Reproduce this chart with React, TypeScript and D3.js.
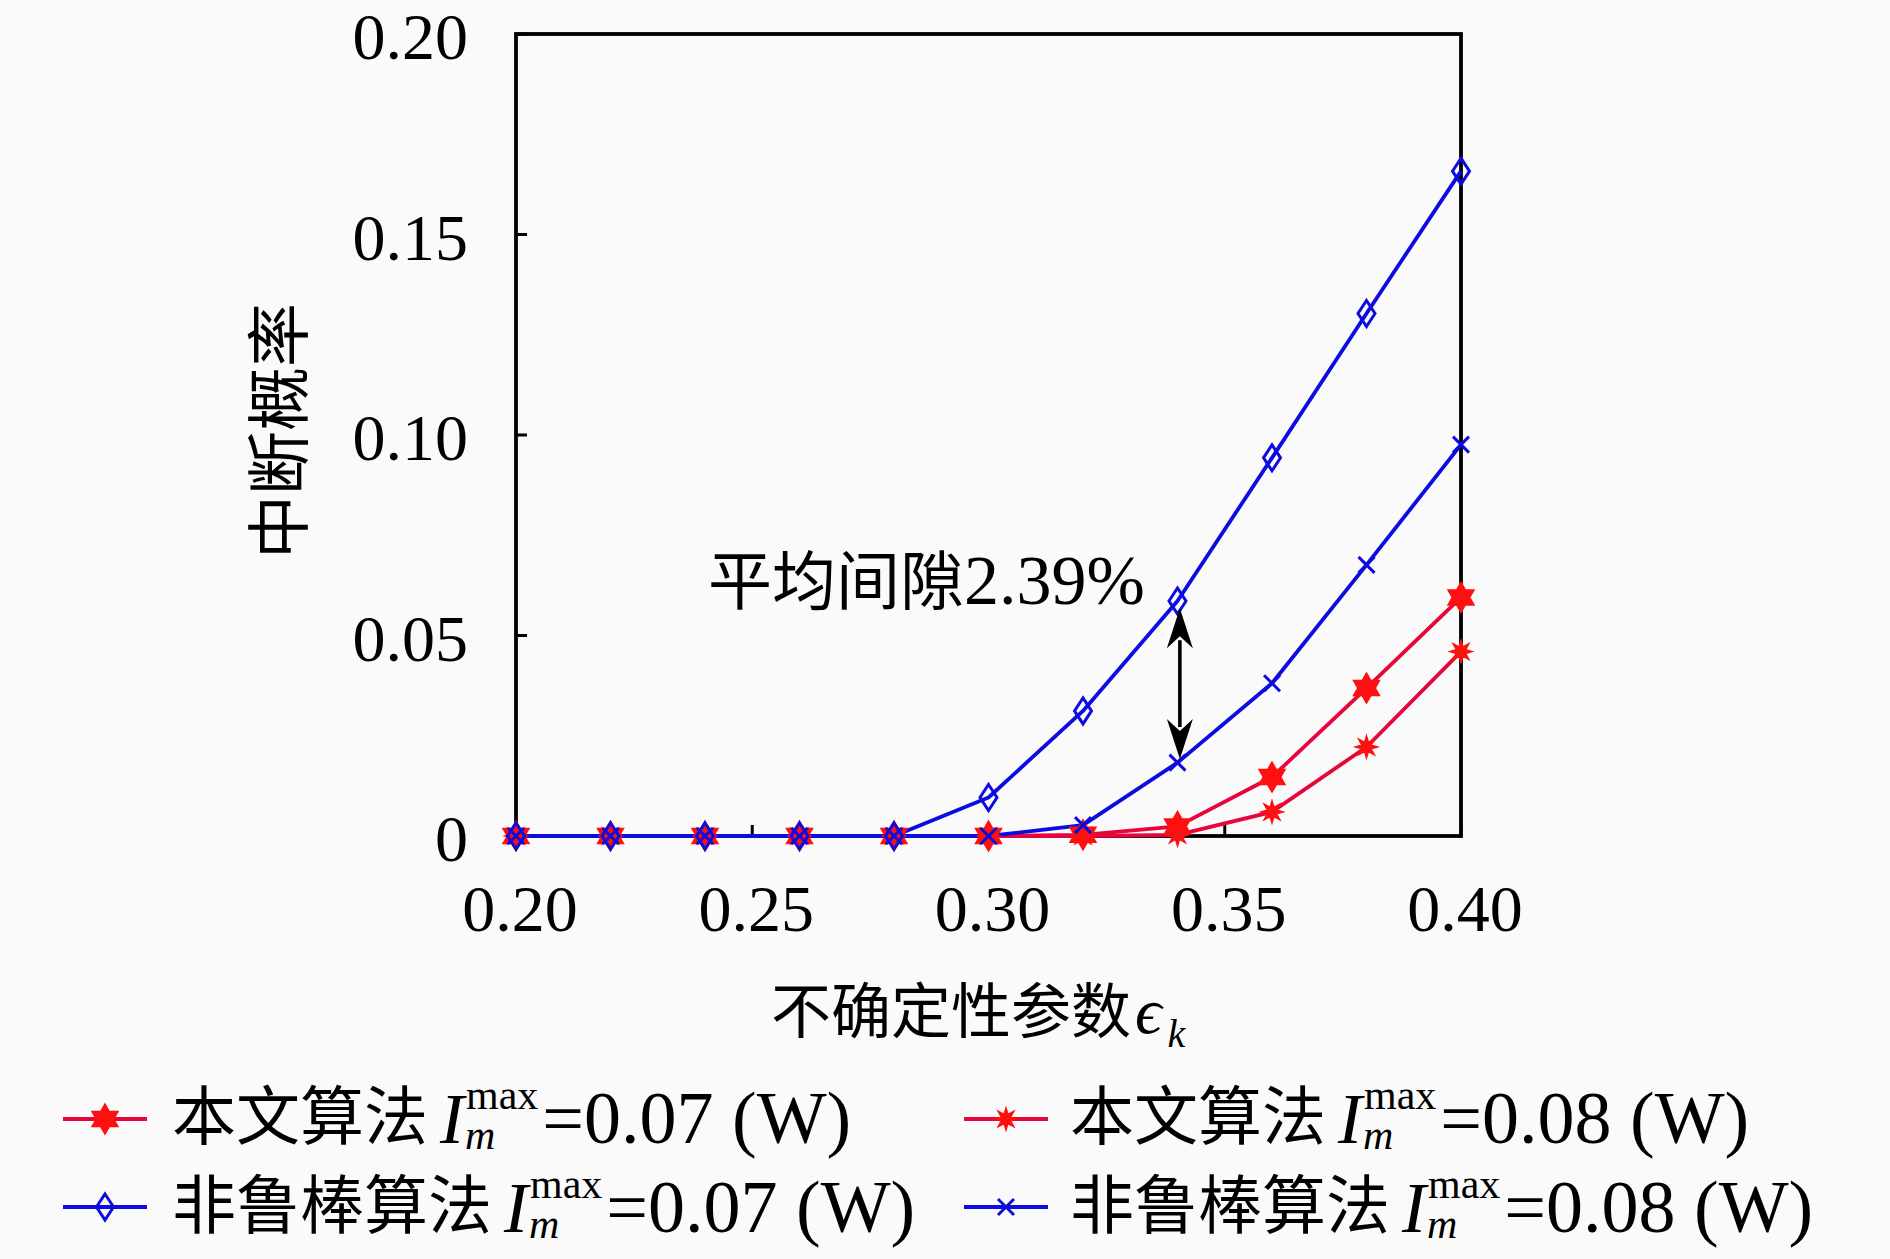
import { useEffect, useRef } from 'react';
import * as d3 from 'd3';

// uncertainty parameter epsilon_k
const epsValues = [0.2, 0.22, 0.24, 0.26, 0.28, 0.3, 0.32, 0.34, 0.36, 0.38, 0.4];

// outage probability
const oursI07 = [0, 0, 0, 0, 0, 0, 0.0003, 0.0024, 0.0147, 0.0369, 0.0595];
const oursI08 = [0, 0, 0, 0, 0, 0, 0, 0.0003, 0.006, 0.0222, 0.046];
const nonRobustI07 = [0, 0, 0, 0, 0, 0.0096, 0.0312, 0.0586, 0.0943, 0.1303, 0.1658];
const nonRobustI08 = [0, 0, 0, 0, 0, 0, 0.0027, 0.0183, 0.0381, 0.0676, 0.0976];

const xTicks = [0.2, 0.25, 0.3, 0.35, 0.4];
const xTickLabels = ['0.20', '0.25', '0.30', '0.35', '0.40'];
const yTicks = [0, 0.05, 0.1, 0.15, 0.2];
const yTickLabels = ['0', '0.05', '0.10', '0.15', '0.20'];

const gapWords = '平均间隙';
const gapValue = '2.39%';
const gapAt = { x: 0.3405, from: 0.0568, to: 0.0192 };

const RED_LINE = '#e6063c';
const RED_MARK = '#ff1010';
const BLUE = '#0c0ce0';
const SERIF = "'Liberation Serif', 'DejaVu Serif', serif";
const CJK = "'Noto Sans CJK SC', 'Noto Sans CJK JP', sans-serif";

type Marker = 'hexagram' | 'asterisk' | 'diamond' | 'cross';

interface Series {
  name: string;
  power: string;
  values: number[];
  line: string;
  mark: string;
  marker: Marker;
}

const series: Series[] = [
  { name: '本文算法', power: '0.07', values: oursI07, line: RED_LINE, mark: RED_MARK, marker: 'hexagram' },
  { name: '本文算法', power: '0.08', values: oursI08, line: RED_LINE, mark: RED_MARK, marker: 'asterisk' },
  { name: '非鲁棒算法', power: '0.07', values: nonRobustI07, line: BLUE, mark: BLUE, marker: 'diamond' },
  { name: '非鲁棒算法', power: '0.08', values: nonRobustI08, line: BLUE, mark: BLUE, marker: 'cross' },
];

function starPath(points: number, outer: number, inner: number) {
  const pts: [number, number][] = [];
  for (let i = 0; i < points * 2; i++) {
    const r = i % 2 === 0 ? outer : inner;
    const a = -Math.PI / 2 + (i * Math.PI) / points;
    pts.push([r * Math.cos(a), r * Math.sin(a)]);
  }
  return 'M' + pts.map(p => p.join(',')).join('L') + 'Z';
}

function drawMarker(g: d3.Selection<SVGGElement, unknown, null, undefined>, s: Series, cx: number, cy: number) {
  const t = `translate(${cx},${cy})`;
  if (s.marker === 'hexagram') {
    g.append('path').attr('transform', t).attr('d', starPath(6, 15, 15 / Math.sqrt(3)))
      .attr('fill', s.mark).attr('stroke', s.mark).attr('stroke-width', 1.5);
  } else if (s.marker === 'asterisk') {
    g.append('path').attr('transform', t).attr('d', starPath(8, 11, 5))
      .attr('fill', s.mark).attr('stroke', s.mark).attr('stroke-width', 1.5);
  } else if (s.marker === 'diamond') {
    g.append('path').attr('transform', t).attr('d', 'M0,-13L8.5,0L0,13L-8.5,0Z')
      .attr('fill', 'none').attr('stroke', s.mark).attr('stroke-width', 3);
  } else {
    g.append('path').attr('transform', t).attr('d', 'M-8,-8L8,8M-8,8L8,-8')
      .attr('fill', 'none').attr('stroke', s.mark).attr('stroke-width', 3);
  }
}

export default function App() {
  const ref = useRef<SVGSVGElement>(null);

  useEffect(() => {
    if (!ref.current) return;
    const svg = d3.select(ref.current);
    svg.selectAll('*').remove();

    const plot = { left: 516, right: 1461, top: 34, bottom: 836 };
    const x = d3.scaleLinear().domain([0.2, 0.4]).range([plot.left, plot.right]);
    const y = d3.scaleLinear().domain([0, 0.2]).range([plot.bottom, plot.top]);

    svg.append('rect').attr('width', 1890).attr('height', 1259).attr('fill', '#fafafa');

    // frame
    svg.append('rect')
      .attr('x', plot.left).attr('y', plot.top)
      .attr('width', plot.right - plot.left).attr('height', plot.bottom - plot.top)
      .attr('fill', 'none').attr('stroke', '#000').attr('stroke-width', 3.8);

    // inward ticks + labels
    const axis = svg.append('g');
    yTicks.forEach((v, i) => {
      axis.append('line').attr('x1', plot.left).attr('x2', plot.left + 11)
        .attr('y1', y(v)).attr('y2', y(v)).attr('stroke', '#000').attr('stroke-width', 3);
      axis.append('text').attr('x', 468).attr('y', y(v) + 25)
        .attr('text-anchor', 'end').attr('font-family', SERIF).attr('font-size', 66)
        .text(yTickLabels[i]);
    });
    xTicks.forEach((v, i) => {
      axis.append('line').attr('x1', x(v)).attr('x2', x(v))
        .attr('y1', plot.bottom).attr('y2', plot.bottom - 11).attr('stroke', '#000').attr('stroke-width', 3);
      axis.append('text').attr('x', x(v) + 4).attr('y', 931)
        .attr('text-anchor', 'middle').attr('font-family', SERIF).attr('font-size', 66)
        .text(xTickLabels[i]);
    });

    // axis titles
    const xt = svg.append('text').attr('x', 771).attr('y', 1033).attr('font-size', 60);
    xt.append('tspan').attr('font-family', CJK).text('不确定性参数');
    xt.append('tspan').attr('font-family', SERIF).attr('font-style', 'italic').attr('font-size', 66)
      .attr('dx', 4).text('ϵ');
    xt.append('tspan').attr('font-family', SERIF).attr('font-style', 'italic').attr('font-size', 40)
      .attr('dx', 6).attr('dy', 14).text('k');

    svg.append('text')
      .attr('transform', 'translate(302,431) rotate(-90)')
      .attr('text-anchor', 'middle').attr('font-family', CJK).attr('font-size', 64)
      .text('中断概率');

    // series
    const lines = svg.append('g');
    const line = d3.line<number>()
      .x((_, i) => x(epsValues[i]))
      .y(d => y(d));
    series.forEach(s => {
      lines.append('path').datum(s.values)
        .attr('d', line).attr('fill', 'none')
        .attr('stroke', s.line).attr('stroke-width', 3.8).attr('stroke-linejoin', 'round');
    });
    const marks = svg.append('g');
    series.forEach(s => {
      s.values.forEach((v, i) => drawMarker(marks, s, x(epsValues[i]), y(v)));
    });

    // gap annotation
    const gt = svg.append('text').attr('x', 708).attr('y', 604);
    gt.append('tspan').attr('font-family', CJK).attr('font-size', 64).text(gapWords);
    gt.append('tspan').attr('font-family', SERIF).attr('font-size', 70).text(gapValue);
    const ax = x(gapAt.x);
    const yTop = y(gapAt.from);
    const yBot = y(gapAt.to);
    const headL = 40;
    const headW = 13;
    svg.append('line').attr('x1', ax).attr('x2', ax)
      .attr('y1', yTop + headL - 8).attr('y2', yBot - headL + 8)
      .attr('stroke', '#000').attr('stroke-width', 3.6);
    svg.append('path')
      .attr('d', `M${ax},${yTop}L${ax + headW},${yTop + headL}L${ax},${yTop + headL - 12}L${ax - headW},${yTop + headL}Z`)
      .attr('fill', '#000');
    svg.append('path')
      .attr('d', `M${ax},${yBot}L${ax + headW},${yBot - headL}L${ax},${yBot - headL + 12}L${ax - headW},${yBot - headL}Z`)
      .attr('fill', '#000');

    // legend
    const legendPos = [
      { lx: 63, tx: 172, ly: 1119, ty: 1143 },
      { lx: 964, tx: 1070, ly: 1119, ty: 1143 },
      { lx: 63, tx: 172, ly: 1207, ty: 1232 },
      { lx: 964, tx: 1070, ly: 1207, ty: 1232 },
    ];
    series.forEach((s, k) => {
      const p = legendPos[k];
      const g = svg.append('g');
      g.append('line').attr('x1', p.lx).attr('x2', p.lx + 84).attr('y1', p.ly).attr('y2', p.ly)
        .attr('stroke', s.line).attr('stroke-width', 3.8);
      drawMarker(g, s, p.lx + 42, p.ly);

      const t = g.append('g').attr('transform', `translate(${p.tx},${p.ty})`);
      const name = t.append('text').attr('font-family', CJK).attr('font-size', 64).attr('y', -4).text(s.name);
      const x0 = (name.node() as SVGTextElement).getComputedTextLength() + 12;

      // I_m^max = value, as one text with positioned tspans
      const math = t.append('text').attr('x', x0).attr('y', 0).attr('font-family', SERIF);
      const iSpan = math.append('tspan').attr('font-style', 'italic').attr('font-size', 72).text('I');
      const iw = (iSpan.node() as SVGTSpanElement).getComputedTextLength();
      const supSpan = math.append('tspan').attr('x', x0 + iw + 2).attr('y', -34)
        .attr('font-size', 42).text('max');
      const sw = (supSpan.node() as SVGTSpanElement).getComputedTextLength();
      math.append('tspan').attr('x', x0 + iw + 1).attr('y', 6)
        .attr('font-style', 'italic').attr('font-size', 42).text('m');
      math.append('tspan').attr('x', x0 + iw + 6 + sw).attr('y', 0)
        .attr('font-size', 74).text(`=${s.power} (W)`);
    });
  }, []);

  return (
    <div style={{ position: 'absolute', left: 0, top: 0 }}>
      <svg ref={ref} width={1890} height={1259} />
    </div>
  );
}
